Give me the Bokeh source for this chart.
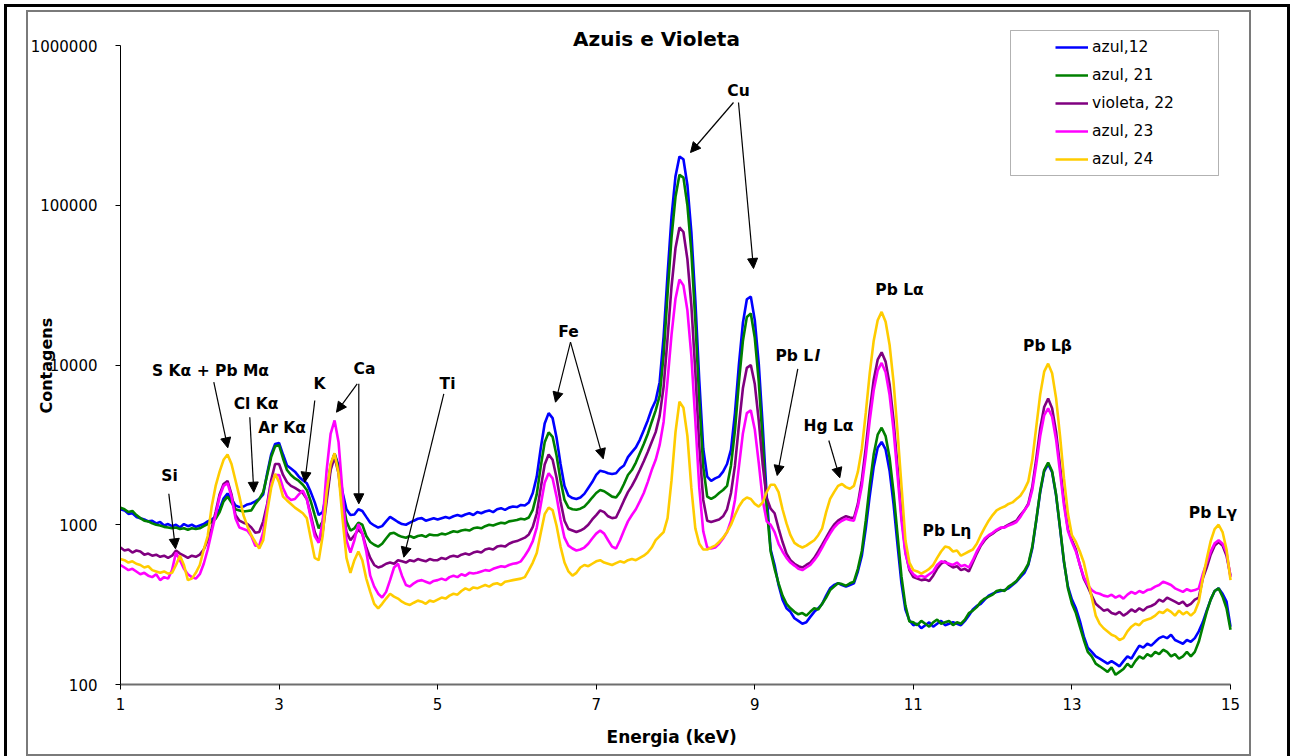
import math
from bokeh.plotting import figure
from bokeh.models import (FixedTicker, PrintfTickFormatter, Label, Arrow, NormalHead,
                          BoxAnnotation, Legend, LegendItem, Range1d)
from bokeh.core.properties import value
from bokeh.embed import file_html
from bokeh.resources import INLINE

# ---------------- data (counts on a 0.05 keV energy grid, 1.00 .. 15.00 keV) ----------------
E_START = 1.0
E_STEP = 0.05

azul_12 = [
    1250, 1230, 1170, 1180, 1120, 1100, 1080, 1050, 1060, 1020, 1040, 990, 1010, 980, 1000, 960, 1010, 980, 1000, 970,
    990, 1010, 1050, 1080, 1120, 1250, 1460, 1570, 1450, 1320, 1290, 1300, 1340, 1360, 1400, 1450, 1550, 2100, 2750, 3200,
    3250, 2750, 2350, 2250, 2150, 2000, 1900, 1820, 1600, 1380, 1150, 1200, 1600, 2350, 2790, 2350, 1600, 1250, 1150, 1160,
    1250, 1220, 1120, 1030, 990, 960, 980, 1050, 1120, 1080, 1040, 1010, 1000, 1030, 1060, 1090, 1100, 1060, 1080, 1100,
    1080, 1100, 1120, 1100, 1130, 1150, 1130, 1160, 1180, 1150, 1200, 1180, 1210, 1230, 1200, 1250, 1270, 1240, 1280, 1300,
    1290, 1330, 1320, 1380, 1580, 2000, 3000, 4300, 5000, 4650, 3500, 2400, 1750, 1520, 1470, 1450, 1480, 1560, 1700, 1850,
    2050, 2180, 2150, 2100, 2080, 2100, 2250, 2350, 2650, 2850, 3050, 3400, 3900, 4500, 5300, 6000, 7800, 15000, 37000, 85000,
    152000, 202000, 194000, 134000, 68000, 25500, 8000, 3000, 2000, 1880, 1950, 2000, 2150, 2400, 2950, 5000, 10100, 18300, 25800, 26800,
    19100, 10200, 4150, 1520, 700, 560, 420, 340, 300, 285, 260, 250, 240, 245, 265, 285, 300, 320, 360, 400,
    420, 430, 420, 410, 420, 430, 510, 640, 950, 1520, 2310, 3030, 3300, 2960, 2180, 1350, 750, 430, 295, 252,
    235, 240, 225, 235, 245, 230, 240, 250, 235, 240, 245, 240, 235, 250, 270, 295, 310, 320, 340, 360,
    370, 380, 385, 390, 400, 420, 440, 470, 500, 560, 710, 1060, 1600, 2160, 2400, 2130, 1530, 950, 580, 410,
    340, 300, 250, 200, 170, 160, 150, 145, 140, 135, 140, 135, 130, 140, 150, 145, 160, 175, 170, 180,
    175, 185, 195, 200, 195, 205, 190, 185, 180, 190, 185, 195, 215, 245, 290, 340, 385, 400, 370, 330,
    230]

azul_21 = [
    1280, 1250, 1200, 1220, 1150, 1100, 1060, 1050, 1020, 1000, 990, 970, 960, 950, 960, 940, 950, 930, 950, 940,
    950, 980, 1010, 1040, 1090, 1200, 1400, 1500, 1380, 1250, 1230, 1210, 1220, 1230, 1350, 1450, 1600, 2050, 2650, 3100,
    3150, 2600, 2200, 2050, 1950, 1880, 1780, 1650, 1400, 1150, 950, 1050, 1500, 2300, 2780, 2250, 1450, 1050, 920, 950,
    1030, 1000, 850, 780, 750, 730, 760, 820, 880, 890, 860, 840, 830, 850, 830, 850, 860, 840, 870, 860,
    860, 880, 870, 890, 910, 900, 920, 930, 920, 950, 960, 950, 980, 1000, 990, 1010, 1030, 1020, 1050, 1060,
    1070, 1090, 1080, 1110, 1240, 1550, 2310, 3280, 3780, 3550, 2710, 1900, 1430, 1280, 1250, 1240, 1260, 1300, 1380, 1480,
    1580, 1650, 1620, 1560, 1500, 1480, 1600, 1800, 2050, 2200, 2450, 2800, 3200, 3700, 4400, 5200, 6400, 11500, 28000, 63000,
    113000, 155000, 149000, 100000, 51000, 19000, 6000, 2300, 1500, 1450, 1500, 1580, 1650, 1750, 2350, 3900, 7850, 14100, 20000, 21000,
    14800, 7900, 3300, 1280, 680, 530, 430, 360, 320, 300, 285, 275, 280, 270, 285, 300, 295, 320, 350, 390,
    410, 430, 425, 415, 430, 440, 530, 685, 1065, 1770, 2760, 3660, 4050, 3590, 2630, 1600, 870, 475, 312, 248,
    245, 235, 250, 240, 230, 245, 255, 240, 245, 250, 235, 245, 240, 255, 280, 290, 305, 330, 345, 355,
    365, 385, 390, 385, 410, 425, 445, 480, 515, 570, 730, 1070, 1630, 2200, 2450, 2160, 1550, 960, 590, 400,
    320, 280, 230, 190, 160, 150, 135, 130, 125, 120, 128, 115, 120, 125, 135, 128, 140, 150, 145, 155,
    150, 160, 155, 165, 160, 150, 155, 145, 150, 160, 150, 160, 185, 230, 285, 340, 385, 400, 355, 300,
    220]

violeta_22 = [
    720, 690, 700, 670, 690, 680, 650, 660, 640, 650, 630, 640, 620, 640, 690, 660, 640, 620, 640, 630,
    650, 700, 800, 950, 1200, 1550, 1800, 1880, 1550, 1150, 1060, 1030, 1010, 960, 890, 900, 1050, 1350, 1900, 2400,
    2400, 2050, 1850, 1750, 1700, 1640, 1580, 1450, 1150, 900, 780, 900, 1400, 2200, 2650, 2100, 1300, 900, 800, 860,
    930, 880, 720, 620, 560, 540, 550, 570, 580, 570, 600, 590, 580, 600, 590, 610, 600, 590, 610, 600,
    600, 620, 610, 630, 640, 630, 650, 660, 650, 670, 680, 670, 700, 710, 700, 730, 740, 730, 760, 780,
    790, 810, 830, 870, 970, 1180, 1700, 2380, 2750, 2550, 1970, 1400, 1060, 940, 920, 900, 920, 950, 1000, 1080,
    1150, 1230, 1200, 1130, 1100, 1110, 1250, 1420, 1600, 1750, 1950, 2200, 2500, 2850, 3300, 3800, 4800, 7300, 14800, 31000,
    54000, 72600, 68000, 46000, 23600, 9100, 3100, 1430, 1060, 1040, 1060, 1080, 1130, 1250, 1580, 2350, 4200, 7150, 9600, 10000,
    7600, 4480, 2370, 1470, 1260, 1180, 950, 780, 660, 600, 570, 550, 540, 560, 580, 620, 680, 750, 830, 920,
    1000, 1060, 1100, 1130, 1110, 1100, 1350, 1900, 3040, 5160, 8090, 10800, 12000, 10500, 7590, 4510, 2310, 1150, 680, 520,
    470, 460, 450, 455, 445, 480, 530, 570, 590, 560, 540, 550, 520, 530, 510, 580, 660, 740, 800, 850,
    880, 920, 950, 970, 1000, 1030, 1060, 1150, 1230, 1355, 1725, 2585, 4000, 5455, 6160, 5355, 3825, 2335, 1395, 935,
    800, 700, 560, 460, 410, 360, 320, 305, 290, 295, 280, 275, 285, 270, 280, 295, 285, 300, 290, 305,
    310, 320, 340, 330, 350, 340, 330, 320, 330, 310, 320, 340, 350, 460, 540, 650, 740, 780, 740, 640,
    480]

azul_23 = [
    560, 540, 520, 530, 510, 490, 500, 480, 470, 490, 450, 470, 460, 520, 670, 600, 530, 490, 470, 460,
    490, 570, 700, 900, 1150, 1500, 1750, 1820, 1500, 1100, 960, 940, 920, 850, 740, 740, 900, 1300, 1800, 2050,
    2050, 1700, 1500, 1430, 1450, 1550, 1640, 1450, 1100, 850, 770, 1050, 2200, 3700, 4500, 3300, 1600, 800, 670, 800,
    1010, 880, 680, 480, 410, 370, 350, 380, 450, 540, 570, 480, 420, 410, 430, 445, 450, 440, 430, 445,
    450, 460, 450, 470, 480, 470, 490, 480, 500, 495, 500, 510, 520, 515, 530, 540, 550, 545, 560, 570,
    575, 590, 640, 700, 790, 960, 1330, 1830, 2100, 1950, 1500, 1080, 830, 740, 710, 690, 700, 720, 760, 820,
    880, 920, 880, 800, 730, 710, 800, 920, 1050, 1150, 1250, 1400, 1580, 1850, 2200, 2550, 3160, 4400, 8000, 15500,
    26000, 34300, 31500, 22000, 11400, 4500, 1700, 910, 720, 710, 720, 760, 820, 900, 1060, 1430, 2310, 3730, 5000, 5200,
    3950, 2440, 1430, 1050, 1000, 900, 760, 680, 620, 580, 555, 530, 520, 540, 560, 600, 650, 720, 800, 880,
    960, 1020, 1060, 1090, 1070, 1060, 1300, 1750, 2700, 4500, 6950, 9250, 10300, 9000, 6500, 3910, 2050, 1060, 660, 530,
    490, 470, 480, 470, 490, 510, 560, 590, 580, 570, 560, 580, 550, 560, 540, 600, 680, 750, 820, 860,
    890, 930, 960, 960, 990, 1010, 1040, 1120, 1230, 1333, 1650, 2384, 3590, 4845, 5350, 4745, 3420, 2134, 1320, 913,
    780, 680, 560, 470, 420, 390, 375, 370, 360, 355, 365, 350, 360, 345, 365, 380, 370, 385, 375, 390,
    395, 410, 420, 440, 430, 420, 400, 390, 380, 395, 385, 390, 400, 490, 580, 680, 765, 800, 760, 670,
    470]

azul_24 = [
    610, 600, 580, 590, 570, 560, 540, 550, 520, 510, 500, 510, 495, 500, 560, 640, 560, 450, 460, 500,
    560, 700, 850, 1300, 1750, 2150, 2550, 2750, 2400, 1900, 1500, 1150, 980, 860, 780, 710, 800, 1200, 1700, 2080,
    1850, 1500, 1420, 1350, 1280, 1230, 1180, 1100, 820, 620, 600, 850, 1600, 2400, 2800, 2100, 1100, 620, 500, 600,
    680, 600, 460, 380, 320, 300, 320, 345, 370, 355, 345, 330, 320, 315, 325, 335, 330, 320, 335, 330,
    340, 350, 345, 360, 370, 365, 385, 400, 390, 405, 400, 410, 420, 410, 425, 430, 420, 440, 445, 450,
    455, 460, 470, 520, 580, 665, 885, 1165, 1280, 1235, 985, 730, 580, 510, 480, 500, 540, 560, 550, 570,
    590, 600, 580, 570, 560, 575, 590, 580, 600, 610, 600, 620, 640, 670, 720, 800, 850, 900, 1100, 1900,
    3800, 5900, 5400, 3600, 1700, 950, 760, 700, 700, 720, 740, 780, 830, 900, 1000, 1150, 1300, 1420, 1480, 1450,
    1350, 1300, 1380, 1600, 1780, 1780, 1600, 1250, 1020, 860, 770, 740, 720, 740, 770, 800, 860, 950, 1200, 1450,
    1600, 1750, 1800, 1720, 1680, 1750, 2140, 2980, 5010, 8900, 14200, 19060, 21500, 18660, 13400, 7850, 3860, 1760, 800, 580,
    520, 510, 495, 510, 530, 560, 620, 680, 730, 720, 680, 690, 640, 660, 680, 700, 760, 860, 960, 1060,
    1150, 1230, 1270, 1300, 1350, 1380, 1450, 1520, 1660, 1870, 2550, 4080, 6550, 9080, 10200, 8880, 6200, 3600, 1950, 1170,
    860, 780, 680, 580, 450, 350, 270, 240, 225, 215, 205, 200, 190, 195, 215, 230, 240, 235, 250, 255,
    260, 270, 285, 280, 295, 285, 270, 290, 275, 285, 270, 285, 330, 460, 610, 790, 940, 1000, 900, 700,
    450]

series_names = ["azul,12", "azul, 21", "violeta, 22", "azul, 23", "azul, 24"]
series_colors = ["#0000FF", "#008000", "#800080", "#FF00FF", "#FFCC00"]
series_values = [azul_12, azul_21, violeta_22, azul_23, azul_24]

x_ticks = [1, 3, 5, 7, 9, 11, 13, 15]
y_ticks = [100, 1000, 10000, 100000, 1000000]

energy = [round(E_START + E_STEP * i, 2) for i in range(len(azul_12))]

FONT = "DejaVu Sans"
NBSP = "\u00a0"

# ---------------- geometry (pixels) ----------------
W, H = 1293, 756
FR_LEFT, FR_BOTTOM = 120, 684          # position of x=1 and y=100
FR_RIGHT, FR_TOP = 1240, 24            # frame edges (a bit beyond x=15 and y=1e6 for texts)
PX_PER_KEV = 1110 / 14                 # x=15 at 1230
PX_PER_DEC = 159.75                    # y=1e6 at 45
x_max = 15 + (FR_RIGHT - 1230) / PX_PER_KEV
y_max = 10 ** (6 + (45 - FR_TOP) / PX_PER_DEC)

p = figure(width=W, height=H, y_axis_type="log",
           x_range=Range1d(1, x_max), y_range=Range1d(100, y_max),
           output_backend="svg", toolbar_location=None, title=None,
           min_border_left=FR_LEFT, min_border_right=W - FR_RIGHT, min_border_top=FR_TOP,
           min_border_bottom=H - FR_BOTTOM)
p.grid.visible = False
p.outline_line_color = None
p.background_fill_alpha = 0
p.border_fill_alpha = 0

# page borders (outer black frame and inner grey chart-area frame)
p.styles = {
    "background-color": "white",
    "background-image": ", ".join(["linear-gradient(#000000,#000000)"] * 3 +
                                  ["linear-gradient(#7a7a7a,#7a7a7a)"] * 4),
    "background-size": "3px 752px, 1286px 3px, 3px 752px, 2px 746px, 1225px 2px, 2px 746px, 1225px 2px",
    "background-position": "4px 4px, 4px 4px, 1287px 4px, 26px 10px, 26px 10px, 1249px 10px, 26px 754px",
    "background-repeat": "no-repeat",
}

p.yaxis.ticker = FixedTicker(ticks=y_ticks)
p.yaxis.formatter = PrintfTickFormatter(format="%d")
p.yaxis.bounds = (100, 1000000)
p.yaxis.axis_line_color = "black"
p.yaxis.major_tick_line_color = "black"
p.yaxis.major_tick_out = 5
p.yaxis.major_tick_in = 0
p.yaxis.minor_tick_out = 0
p.yaxis.minor_tick_in = 0
p.yaxis.major_label_standoff = 18
p.yaxis.axis_label = "Contagens" + NBSP * 4
p.yaxis.axis_label_standoff = -28
p.yaxis.axis_label_text_font_size = "16px"

p.xaxis.ticker = FixedTicker(ticks=x_ticks)
p.xaxis.bounds = (1, 15)
p.xaxis.axis_line_color = "#6e6e6e"
p.xaxis.axis_line_width = 2
p.xaxis.major_tick_line_color = "black"
p.xaxis.major_tick_out = 5
p.xaxis.major_tick_in = 0
p.xaxis.minor_tick_out = 0
p.xaxis.minor_tick_in = 0
p.xaxis.major_label_standoff = 8
p.xaxis.axis_label = "Energia (keV)" + NBSP * 3
p.xaxis.axis_label_standoff = 14
p.xaxis.axis_label_text_font_size = "17px"

for ax in (p.xaxis, p.yaxis):
    ax.major_label_text_font = FONT
    ax.major_label_text_font_size = "15px"
    ax.major_label_text_color = "black"
    ax.axis_label_text_font = FONT
    ax.axis_label_text_font_style = "bold"
    ax.axis_label_text_color = "black"

renderers = []
for name, col, vals in zip(series_names, series_colors, series_values):
    r = p.line(energy, vals, line_color=col, line_width=2.6)
    renderers.append(r)

legend = Legend(items=[LegendItem(label=value(n), renderers=[r]) for n, r in zip(series_names, renderers)],
                location=(935, 515 - (FR_BOTTOM - 684)), glyph_width=33, glyph_height=20, label_height=20,
                label_standoff=4, spacing=8, padding=5, margin=0,
                border_line_color=None, background_fill_alpha=0,
                label_text_font=FONT, label_text_font_size="15.5px", label_text_color="black")
p.add_layout(legend)


def ex(px):
    return 1 + (px - FR_LEFT) / PX_PER_KEV


def vy(py):
    return 10 ** (6 - (py - 45) / PX_PER_DEC)


# legend frame
p.add_layout(BoxAnnotation(left=ex(1010), right=ex(1218), top=vy(30), bottom=vy(175),
                           fill_alpha=0, line_color="black", line_width=1, level="overlay"))


def lab(text, px, py, size="15.5px", style="bold", align="center", angle=0.0):
    p.add_layout(Label(x=ex(px), y=vy(py), text=text, text_font=FONT, text_font_size=size,
                       text_font_style=style, text_align=align, text_baseline="middle",
                       text_color="black", angle=angle))


def arr(x0, y0, x1, y1):
    p.add_layout(Arrow(x_start=ex(x0), y_start=vy(y0), x_end=ex(x1), y_end=vy(y1),
                       line_color="black", line_width=1.2,
                       end=NormalHead(size=10, fill_color="black", line_color="black", line_width=1)))


# title
lab("Azuis e Violeta", 656, 38, size="20px")

# peak annotations
lab("Si", 169, 475)
arr(168.3, 493.3, 175, 548.3)
lab("S K\u03b1 + Pb M\u03b1", 210, 370)
arr(213.3, 381.7, 227.3, 447.3)
lab("Cl K\u03b1", 255.5, 403)
arr(249.3, 416.7, 253.3, 491.7)
lab("Ar K\u03b1", 281.5, 427)
lab("K", 319, 383)
arr(314.3, 400, 304.3, 481.7)
lab("Ca", 364, 368)
arr(356.7, 383.3, 336, 411.7)
arr(358.3, 383.3, 358.3, 503.3)
lab("Ti", 447, 383)
arr(443.3, 393.3, 403.3, 556.7)
lab("Fe", 568, 331)
arr(570, 341.7, 555, 401.7)
arr(570, 341.7, 602.7, 458.3)
lab("Cu", 738, 90)
arr(733, 102, 690, 152)
arr(738, 102, 753, 268)
lab("Pb L", 775, 355, align="left")
lab("l", 814, 355, style="bold italic", align="left")
arr(797.3, 368.3, 776.7, 475)
lab("Hg L\u03b1", 828, 425)
arr(828.3, 440, 839.3, 477.3)
lab("Pb L\u03b1", 899, 289)
lab("Pb L\u03b7", 946.5, 530)
lab("Pb L\u03b2", 1047, 345)
lab("Pb L\u03b3", 1212.5, 512)

open("out.html", "w").write(file_html(p, INLINE))
